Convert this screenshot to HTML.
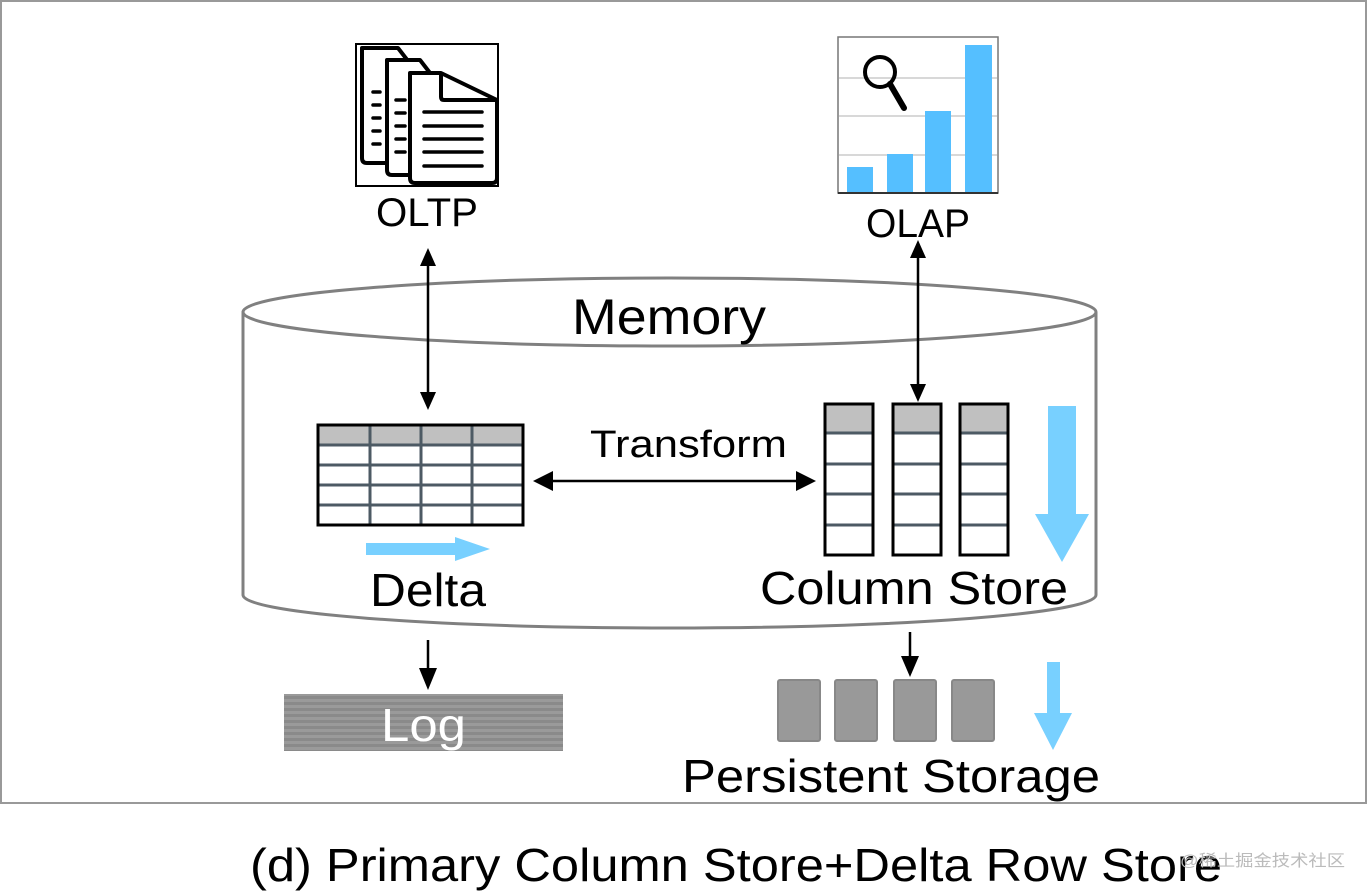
<!DOCTYPE html>
<html><head><meta charset="utf-8"><style>
html,body{margin:0;padding:0;background:#fff;}
svg{display:block;font-family:"Liberation Sans","Noto Sans CJK SC",sans-serif;}
</style></head><body>
<svg width="1368" height="896" viewBox="0 0 1368 896" xmlns="http://www.w3.org/2000/svg">
<defs>
<pattern id="stripe" width="10" height="6" patternUnits="userSpaceOnUse"><rect width="10" height="6" fill="#8a8a8a"/><rect y="3" width="10" height="3" fill="#9a9a9a"/></pattern>
</defs>
<rect x="1" y="1" width="1365" height="802" fill="#fff" stroke="#999" stroke-width="2"/>

<path d="M243,312 L243,595 A426.5,33 0 0 0 1096,595 L1096,312" fill="none" stroke="#808080" stroke-width="3"/>
<ellipse cx="669.5" cy="312" rx="426.5" ry="34" fill="none" stroke="#808080" stroke-width="3"/>
<text x="572" y="334" font-size="50" textLength="194" lengthAdjust="spacingAndGlyphs">Memory</text>

<rect x="356" y="44" width="142" height="142" fill="#fff" stroke="#000" stroke-width="2"/>
<g stroke="#000" stroke-width="4" fill="#fff" stroke-linejoin="round">
<path d="M362,48 L398,48 L415,70 L415,158 Q415,163 410,163 L367,163 Q362,163 362,158 Z"/>
<path d="M387,60 L420,60 L437,82 L437,170 Q437,175 432,175 L392,175 Q387,175 387,170 Z"/>
<path d="M410,73 L441,73 L497,100 L497,178 Q497,183 492,183 L415,183 Q410,183 410,178 Z"/>
<path d="M441,73 L441,97 Q441,100 444,100 L497,100" fill="none"/>
</g>
<g stroke="#000" stroke-width="3.5" stroke-linecap="round">
<line x1="373" y1="92" x2="380" y2="92"/><line x1="373" y1="105" x2="380" y2="105"/><line x1="373" y1="118" x2="380" y2="118"/><line x1="373" y1="131" x2="380" y2="131"/><line x1="373" y1="144" x2="380" y2="144"/>
<line x1="396" y1="100" x2="405" y2="100"/><line x1="396" y1="113" x2="405" y2="113"/><line x1="396" y1="126" x2="405" y2="126"/><line x1="396" y1="139" x2="405" y2="139"/><line x1="396" y1="152" x2="405" y2="152"/>
<line x1="424" y1="112" x2="482" y2="112"/><line x1="424" y1="126" x2="482" y2="126"/><line x1="424" y1="139" x2="482" y2="139"/><line x1="424" y1="152" x2="482" y2="152"/><line x1="424" y1="166" x2="482" y2="166"/>
</g>
<text x="376" y="226" font-size="40" textLength="102" lengthAdjust="spacingAndGlyphs">OLTP</text>

<rect x="838" y="37" width="160" height="156" fill="#fff" stroke="#777" stroke-width="1.5"/>
<g stroke="#ccc" stroke-width="1.5"><line x1="839" y1="78" x2="997" y2="78"/><line x1="839" y1="116" x2="997" y2="116"/><line x1="839" y1="155" x2="997" y2="155"/></g>
<g fill="#55bfff"><rect x="847" y="167" width="26" height="26"/><rect x="887" y="154" width="26" height="39"/><rect x="925" y="111" width="26" height="82"/><rect x="965" y="45" width="27" height="148"/></g>
<line x1="838" y1="193" x2="998" y2="193" stroke="#333" stroke-width="2"/>
<circle cx="880" cy="72" r="15" fill="none" stroke="#000" stroke-width="4"/>
<line x1="890" y1="84" x2="904" y2="108" stroke="#000" stroke-width="6" stroke-linecap="round"/>
<text x="866" y="237" font-size="40" textLength="104" lengthAdjust="spacingAndGlyphs">OLAP</text>

<line x1="428" y1="258" x2="428" y2="402" stroke="#000" stroke-width="2.5"/>
<line x1="918" y1="250" x2="918" y2="393" stroke="#000" stroke-width="2.5"/>
<path d="M428,248 L420,266 L436,266 Z M428,410 L420,392 L436,392 Z M918,240 L910,258 L926,258 Z M918,402 L910,384 L926,384 Z" fill="#000"/>

<rect x="318" y="425" width="205" height="20" fill="#c0c0c0"/>
<g stroke="#4d5a64" stroke-width="3">
<line x1="318" y1="445" x2="523" y2="445"/><line x1="318" y1="465" x2="523" y2="465"/><line x1="318" y1="485" x2="523" y2="485"/><line x1="318" y1="505" x2="523" y2="505"/>
<line x1="370" y1="425" x2="370" y2="525"/><line x1="421" y1="425" x2="421" y2="525"/><line x1="472" y1="425" x2="472" y2="525"/>
</g>
<rect x="318" y="425" width="205" height="100" fill="none" stroke="#000" stroke-width="3"/>
<path d="M366,543 L455,543 L455,537 L490,549 L455,561 L455,555 L366,555 Z" fill="#78d0ff"/>
<text x="370" y="606" font-size="46" textLength="116" lengthAdjust="spacingAndGlyphs">Delta</text>

<text x="590" y="457" font-size="38" textLength="197" lengthAdjust="spacingAndGlyphs">Transform</text>
<line x1="545" y1="481" x2="805" y2="481" stroke="#000" stroke-width="2.5"/>
<path d="M533,481 L553,471 L553,491 Z M816,481 L796,471 L796,491 Z" fill="#000"/>

<rect x="825" y="404" width="48" height="29" fill="#c0c0c0"/>
<rect x="893" y="404" width="48" height="29" fill="#c0c0c0"/>
<rect x="960" y="404" width="48" height="29" fill="#c0c0c0"/>
<g stroke="#4d5a64" stroke-width="3">
<line x1="825" y1="433" x2="1008" y2="433"/><line x1="825" y1="464" x2="1008" y2="464"/><line x1="825" y1="494" x2="1008" y2="494"/><line x1="825" y1="525" x2="1008" y2="525"/>
</g>
<rect x="873" y="400" width="20" height="160" fill="#fff"/>
<rect x="941" y="400" width="19" height="160" fill="#fff"/>
<g fill="none" stroke="#000" stroke-width="3">
<rect x="825" y="404" width="48" height="151"/><rect x="893" y="404" width="48" height="151"/><rect x="960" y="404" width="48" height="151"/>
</g>
<path d="M1048,406 L1076,406 L1076,514 L1089,514 L1062,562 L1035,514 L1048,514 Z" fill="#78d0ff"/>
<text x="760" y="604" font-size="46" textLength="308" lengthAdjust="spacingAndGlyphs">Column Store</text>

<line x1="428" y1="640" x2="428" y2="672" stroke="#000" stroke-width="2.5"/>
<path d="M428,690 L419,668 L437,668 Z" fill="#000"/>
<line x1="910" y1="632" x2="910" y2="660" stroke="#000" stroke-width="2.5"/>
<path d="M910,677 L901,656 L919,656 Z" fill="#000"/>

<rect x="284" y="694" width="279" height="57" fill="url(#stripe)"/>
<text x="381" y="741" font-size="46" fill="#fff" textLength="85" lengthAdjust="spacingAndGlyphs">Log</text>

<g fill="#999" stroke="#888" stroke-width="2">
<rect x="778" y="680" width="42" height="61" rx="2"/><rect x="835" y="680" width="42" height="61" rx="2"/><rect x="894" y="680" width="42" height="61" rx="2"/><rect x="952" y="680" width="42" height="61" rx="2"/>
</g>
<path d="M1047,662 L1060,662 L1060,713 L1072,713 L1053,750 L1034,713 L1047,713 Z" fill="#78d0ff"/>
<text x="682" y="792" font-size="46" textLength="418" lengthAdjust="spacingAndGlyphs">Persistent Storage</text>

<text x="250" y="881" font-size="46" textLength="972" lengthAdjust="spacingAndGlyphs">(d) Primary Column Store+Delta Row Store</text>
<text x="1180" y="866" font-size="16" fill="#bbb" textLength="165" lengthAdjust="spacingAndGlyphs">@稀土掘金技术社区</text>
</svg>
</body></html>
